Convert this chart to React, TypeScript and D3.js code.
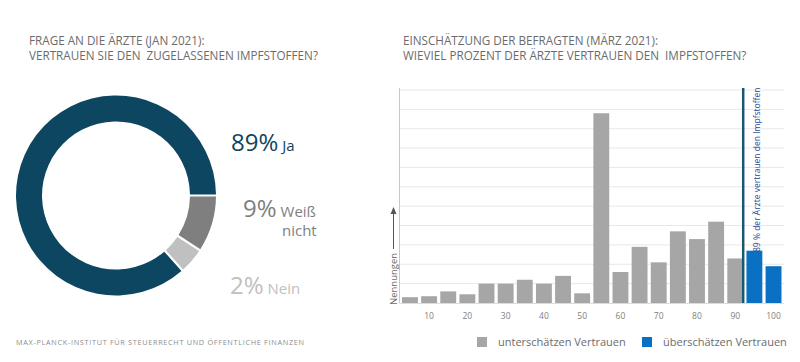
import { useEffect, useRef } from "react"
import * as d3 from "d3"

// donut: answers of the doctors (Jan 2021)
const answerLabels = ["Weiß nicht", "Nein", "Ja"]
const answerPercentText = ["9%", "2%", "89%"]
const answerShares = [9, 4, 87] // slice sizes as drawn
const answerColors = ["#7f7f7f", "#c0c0c0", "#0d4660"]

// histogram: estimates of respondents (März 2021)
const estimateBins = [5, 10, 15, 20, 25, 30, 35, 40, 45, 50, 55, 60, 65, 70, 75, 80, 85, 90, 95, 100]
const estimateCounts = [3, 3.5, 6, 4.5, 10, 10, 12, 10, 14, 5, 98, 16, 29, 21, 37, 33, 42, 23, 27, 19]
const xTickLabels = [10, 20, 30, 40, 50, 60, 70, 80, 90, 100]
const actualTrust = 89
const legendItems = ["unterschätzen Vertrauen", "überschätzen Vertrauen"]

const FONT = "'Open Sans', sans-serif"
const GRAY_BAR = "#a6a6a6"
const BLUE_BAR = "#0a70c4"

export default function App() {
  const svgRef = useRef<SVGSVGElement>(null)

  useEffect(() => {
    if (!svgRef.current) return
    const svg = d3.select(svgRef.current)
    svg.selectAll("*").remove()

    svg.append("rect").attr("width", 800).attr("height", 362).attr("fill", "#ffffff")

    // titles
    const titles = [
      { x: 29, lines: ["FRAGE AN DIE ÄRZTE (JAN 2021):", "VERTRAUEN SIE DEN  ZUGELASSENEN IMPFSTOFFEN?"] },
      { x: 403, lines: ["EINSCHÄTZUNG DER BEFRAGTEN (MÄRZ 2021):", "WIEVIEL PROZENT DER ÄRZTE VERTRAUEN DEN  IMPFSTOFFEN?"] },
    ]
    titles.forEach((t) => {
      t.lines.forEach((line, i) => {
        svg
          .append("text")
          .attr("x", t.x)
          .attr("y", 45 + i * 14.5)
          .attr("font-family", FONT)
          .attr("font-size", 11.7)
          .attr("fill", "#6b6b6b")
          .style("white-space", "pre")
          .text(line)
      })
    })

    // donut
    const cx = 116
    const cy = 195.5
    const pie = d3
      .pie<number>()
      .sort(null)
      .startAngle(Math.PI / 2)
      .endAngle(Math.PI / 2 + Math.PI * 2)
      .padAngle(0.018)
    const arc = d3.arc<d3.PieArcDatum<number>>().innerRadius(74).outerRadius(100)
    const donut = svg.append("g").attr("transform", `translate(${cx},${cy})`)
    donut
      .selectAll("path")
      .data(pie(answerShares))
      .enter()
      .append("path")
      .attr("d", arc)
      .attr("fill", (d, i) => answerColors[i])

    // donut labels
    const labelPos = [
      { x: 243, y: 217 },
      { x: 230, y: 294 },
      { x: 231, y: 151 },
    ]
    answerPercentText.forEach((pct, i) => {
      const t = svg
        .append("text")
        .attr("x", labelPos[i].x)
        .attr("y", labelPos[i].y)
        .attr("font-family", FONT)
        .attr("fill", answerColors[i])
      t.append("tspan").attr("font-size", 24).text(pct)
      const words = answerLabels[i].split(" ")
      t.append("tspan").attr("font-size", 15).attr("dx", 4).text(words[0])
      if (words[1]) {
        svg
          .append("text")
          .attr("x", 282)
          .attr("y", labelPos[i].y + 19)
          .attr("font-family", FONT)
          .attr("font-size", 15)
          .attr("fill", answerColors[i])
          .text(words[1])
      }
    })

    // histogram
    const x = d3
      .scaleBand<number>()
      .domain(estimateBins)
      .range([400.5, 783])
      .paddingInner(0.17)
      .paddingOuter(0.08)
    const y = d3.scaleLinear().domain([0, 110]).range([303, 90])

    svg
      .append("g")
      .selectAll("line")
      .data(d3.range(10, 111, 10))
      .enter()
      .append("line")
      .attr("x1", 400)
      .attr("x2", 784)
      .attr("y1", (d) => y(d))
      .attr("y2", (d) => y(d))
      .attr("stroke", "#e8e8e8")
      .attr("stroke-width", 1)

    svg
      .append("line")
      .attr("x1", 399.5)
      .attr("x2", 399.5)
      .attr("y1", y(110) - 2)
      .attr("y2", y(0))
      .attr("stroke", "#c8c8c8")
    svg
      .append("line")
      .attr("x1", 399.5)
      .attr("x2", 784)
      .attr("y1", y(0) + 0.5)
      .attr("y2", y(0) + 0.5)
      .attr("stroke", "#dcdcdc")

    svg
      .append("g")
      .selectAll("rect")
      .data(estimateBins)
      .enter()
      .append("rect")
      .attr("x", (d) => x(d)!)
      .attr("width", x.bandwidth())
      .attr("y", (d, i) => y(estimateCounts[i]))
      .attr("height", (d, i) => y(0) - y(estimateCounts[i]))
      .attr("fill", (d) => (d > actualTrust + 3.5 ? BLUE_BAR : GRAY_BAR))

    // x tick labels
    svg
      .append("g")
      .selectAll("text")
      .data(xTickLabels)
      .enter()
      .append("text")
      .attr("x", (d) => x(d)! + x.bandwidth() / 2)
      .attr("y", 318.5)
      .attr("text-anchor", "middle")
      .attr("font-family", FONT)
      .attr("font-size", 8.5)
      .attr("fill", "#808080")
      .text((d) => d)

    // reference line for actual trust
    const lineX = x(90)! + x.bandwidth()
    svg
      .append("line")
      .attr("x1", lineX)
      .attr("x2", lineX)
      .attr("y1", y(110) - 2)
      .attr("y2", y(0))
      .attr("stroke", "#1b5670")
      .attr("stroke-width", 2.5)
    svg
      .append("text")
      .attr("transform", `translate(${lineX + 17},252) rotate(-90)`)
      .attr("font-family", FONT)
      .attr("font-size", 8.5)
      .attr("fill", "#26479a")
      .text(`${actualTrust} % der Ärzte vertrauen den Impfstoffen`)

    // y axis title with arrow
    svg
      .append("text")
      .attr("transform", "translate(396.5,305) rotate(-90)")
      .attr("font-family", FONT)
      .attr("font-size", 9.5)
      .attr("fill", "#6b6b6b")
      .text("Nennungen")
    svg
      .append("line")
      .attr("x1", 393.5)
      .attr("x2", 393.5)
      .attr("y1", 249)
      .attr("y2", 212)
      .attr("stroke", "#555")
      .attr("stroke-width", 1)
    svg
      .append("path")
      .attr("d", "M390.5,214 L393.5,207 L396.5,214 Z")
      .attr("fill", "#555")

    // legend
    const legendX = [477, 642]
    legendItems.forEach((name, i) => {
      svg
        .append("rect")
        .attr("x", legendX[i])
        .attr("y", 337)
        .attr("width", 10)
        .attr("height", 10)
        .attr("fill", i === 0 ? GRAY_BAR : BLUE_BAR)
      svg
        .append("text")
        .attr("x", legendX[i] + 21)
        .attr("y", 346)
        .attr("font-family", FONT)
        .attr("font-size", 11)
        .attr("fill", "#6b6b6b")
        .text(name)
    })

    // footer
    svg
      .append("text")
      .attr("x", 16)
      .attr("y", 344.5)
      .attr("font-family", FONT)
      .attr("font-size", 7.3)
      .attr("letter-spacing", 0.68)
      .attr("fill", "#8c8c8c")
      .text("MAX-PLANCK-INSTITUT FÜR STEUERRECHT UND ÖFFENTLICHE FINANZEN")
  }, [])

  return (
    <svg
      ref={svgRef}
      width={800}
      height={362}
      style={{ position: "absolute", left: 0, top: 0, display: "block" }}
    ></svg>
  )
}
